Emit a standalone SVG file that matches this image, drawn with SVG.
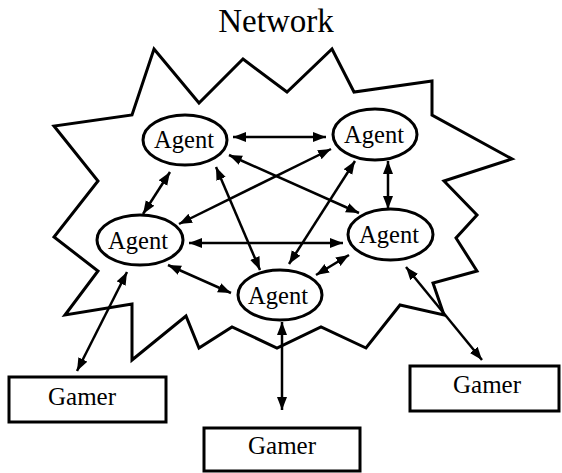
<svg xmlns="http://www.w3.org/2000/svg" width="562" height="473" viewBox="0 0 562 473">
  <defs>
    <style>
      text { font-family: "Liberation Serif", "Times New Roman", Times, serif; fill: #000; text-anchor: middle; }
      .agent ellipse { fill: #fff; stroke: #000; stroke-width: 3; }
      .gamer rect { fill: #fff; stroke: #000; stroke-width: 3; }
      .link { stroke: #000; stroke-width: 2.5; fill: none; marker-start: url(#tip); marker-end: url(#tip); }
    </style>
    <marker id="tip" markerUnits="userSpaceOnUse" markerWidth="14" markerHeight="11" refX="13" refY="5" orient="auto-start-reverse">
      <path d="M0,0 L13,5 L0,10 Z" fill="#000"/>
    </marker>
  </defs>

  <rect width="562" height="473" fill="#fff"/>

  <!-- title -->
  <text x="276" y="32" font-size="33" font-family="Liberation Serif, serif">Network</text>

  <!-- network cloud -->
  <polygon id="cloud" fill="none" stroke="#000" stroke-width="3" stroke-linejoin="miter"
    points="154,49 199,103 243,59 287,92 332,49 354,92 432,81 432,115 512,159 444,181 477,215 456,238 477,271 433,283 444,315 400,305 366,348 321,327 277,348 232,327 199,348 186,316 132,360 132,304 65,315 98,271 54,237 98,181 54,126 132,115"/>

  <!-- connectors -->
  <g id="connectors">
    <line class="link" x1="233" y1="137" x2="326" y2="137"/>
    <line class="link" x1="170" y1="172" x2="143" y2="214"/>
    <line class="link" x1="229" y1="155" x2="359" y2="213"/>
    <line class="link" x1="216" y1="167" x2="260" y2="270"/>
    <line class="link" x1="331" y1="149" x2="179" y2="224"/>
    <line class="link" x1="355" y1="161" x2="289" y2="264"/>
    <line class="link" x1="388" y1="161" x2="388" y2="209"/>
    <line class="link" x1="189" y1="243" x2="343" y2="243"/>
    <line class="link" x1="168" y1="265" x2="231" y2="293"/>
    <line class="link" x1="316" y1="275" x2="349" y2="255"/>
    <line class="link" x1="127" y1="272" x2="77" y2="371"/>
    <line class="link" x1="282" y1="322" x2="282" y2="410"/>
    <line class="link" x1="406" y1="267" x2="482" y2="360"/>
  </g>

  <!-- agents -->
  <g id="agent-top-left" class="agent">
    <ellipse cx="185" cy="140" rx="42" ry="25"/>
    <text x="184" y="148" font-size="24.5">Agent</text>
  </g>
  <g id="agent-top-right" class="agent">
    <ellipse cx="375" cy="134.5" rx="42" ry="25.5"/>
    <text x="374" y="143" font-size="24.5">Agent</text>
  </g>
  <g id="agent-left" class="agent">
    <ellipse cx="140" cy="240" rx="43" ry="25"/>
    <text x="138" y="249" font-size="24.5">Agent</text>
  </g>
  <g id="agent-right" class="agent">
    <ellipse cx="390.5" cy="234.5" rx="42.5" ry="25.5"/>
    <text x="389" y="243" font-size="24.5">Agent</text>
  </g>
  <g id="agent-bottom" class="agent">
    <ellipse cx="280" cy="295" rx="42" ry="25"/>
    <text x="278" y="304" font-size="24.5">Agent</text>
  </g>

  <!-- gamers -->
  <g id="gamer-left" class="gamer">
    <rect x="9" y="377" width="157" height="45"/>
    <text x="82" y="405" font-size="25">Gamer</text>
  </g>
  <g id="gamer-bottom" class="gamer">
    <rect x="204" y="428" width="156" height="43"/>
    <text x="282" y="454" font-size="25">Gamer</text>
  </g>
  <g id="gamer-right" class="gamer">
    <rect x="410" y="366" width="149" height="45"/>
    <text x="487" y="393" font-size="25">Gamer</text>
  </g>
</svg>
